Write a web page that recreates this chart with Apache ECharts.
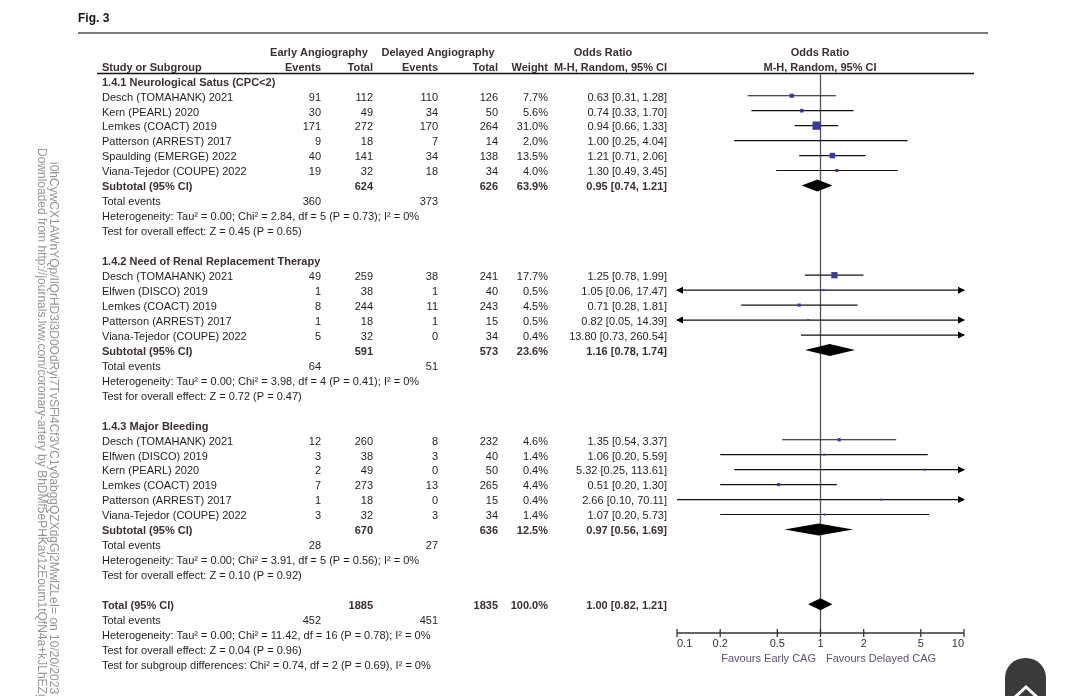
<!DOCTYPE html>
<html>
<head>
<meta charset="utf-8">
<script src="https://cdn.jsdelivr.net/npm/echarts@6/dist/echarts.min.js"></script>
<style>
  html, body { margin: 0; padding: 0; background: #fff; }
  #chart { width: 1079px; height: 696px; }
</style>
</head>
<body>
<div id="chart"></div>
<script>
// ---- data ----
// 1.4.1 Neurological Satus (CPC<2)
const names1 = ['Desch (TOMAHANK) 2021', 'Kern (PEARL) 2020', 'Lemkes (COACT) 2019', 'Patterson (ARREST) 2017', 'Spaulding (EMERGE) 2022', 'Viana-Tejedor (COUPE) 2022'];
const earlyEv1 = [91, 30, 171, 9, 40, 19];
const earlyTot1 = [112, 49, 272, 18, 141, 32];
const delayEv1 = [110, 34, 170, 7, 34, 18];
const delayTot1 = [126, 50, 264, 14, 138, 34];
const weight1 = [7.7, 5.6, 31.0, 2.0, 13.5, 4.0];
const or1 = [0.63, 0.74, 0.94, 1.00, 1.21, 1.30];
const lo1 = [0.31, 0.33, 0.66, 0.25, 0.71, 0.49];
const hi1 = [1.28, 1.70, 1.33, 4.04, 2.06, 3.45];
const sub1 = [624, 626, 63.9, 0.95, 0.74, 1.21];
const events1 = [360, 373];
const het1 = 'Heterogeneity: Tau² = 0.00; Chi² = 2.84, df = 5 (P = 0.73); I² = 0%';
const test1 = 'Test for overall effect: Z = 0.45 (P = 0.65)';

// 1.4.2 Need of Renal Replacement Therapy
const names2 = ['Desch (TOMAHANK) 2021', 'Elfwen (DISCO) 2019', 'Lemkes (COACT) 2019', 'Patterson (ARREST) 2017', 'Viana-Tejedor (COUPE) 2022'];
const earlyEv2 = [49, 1, 8, 1, 5];
const earlyTot2 = [259, 38, 244, 18, 32];
const delayEv2 = [38, 1, 11, 1, 0];
const delayTot2 = [241, 40, 243, 15, 34];
const weight2 = [17.7, 0.5, 4.5, 0.5, 0.4];
const or2 = [1.25, 1.05, 0.71, 0.82, 13.80];
const lo2 = [0.78, 0.06, 0.28, 0.05, 0.73];
const hi2 = [1.99, 17.47, 1.81, 14.39, 260.54];
const sub2 = [591, 573, 23.6, 1.16, 0.78, 1.74];
const events2 = [64, 51];
const het2 = 'Heterogeneity: Tau² = 0.00; Chi² = 3.98, df = 4 (P = 0.41); I² = 0%';
const test2 = 'Test for overall effect: Z = 0.72 (P = 0.47)';

// 1.4.3 Major Bleeding
const names3 = ['Desch (TOMAHANK) 2021', 'Elfwen (DISCO) 2019', 'Kern (PEARL) 2020', 'Lemkes (COACT) 2019', 'Patterson (ARREST) 2017', 'Viana-Tejedor (COUPE) 2022'];
const earlyEv3 = [12, 3, 2, 7, 1, 3];
const earlyTot3 = [260, 38, 49, 273, 18, 32];
const delayEv3 = [8, 3, 0, 13, 0, 3];
const delayTot3 = [232, 40, 50, 265, 15, 34];
const weight3 = [4.6, 1.4, 0.4, 4.4, 0.4, 1.4];
const or3 = [1.35, 1.06, 5.32, 0.51, 2.66, 1.07];
const lo3 = [0.54, 0.20, 0.25, 0.20, 0.10, 0.20];
const hi3 = [3.37, 5.59, 113.61, 1.30, 70.11, 5.73];
const sub3 = [670, 636, 12.5, 0.97, 0.56, 1.69];
const events3 = [28, 27];
const het3 = 'Heterogeneity: Tau² = 0.00; Chi² = 3.91, df = 5 (P = 0.56); I² = 0%';
const test3 = 'Test for overall effect: Z = 0.10 (P = 0.92)';

// overall
const totalAll = [1885, 1835, 100.0, 1.00, 0.82, 1.21];
const eventsAll = [452, 451];
const hetAll = 'Heterogeneity: Tau² = 0.00; Chi² = 11.42, df = 16 (P = 0.78); I² = 0%';
const testAll = 'Test for overall effect: Z = 0.04 (P = 0.96)';
const testSub = 'Test for subgroup differences: Chi² = 0.74, df = 2 (P = 0.69), I² = 0%';

const tickVals = [0.1, 0.2, 0.5, 1, 2, 5, 10];
const tickText = ['0.1', '0.2', '0.5', '1', '2', '5', '10'];

// ---- layout ----
const FONT = '"Liberation Sans", Arial, sans-serif';
const FS = 11;
const TXT = '#1e1e1e';
const BOLDC = '#3b2f2f';
const COL = { name: 102, ee: 321, et: 373, de: 438, dt: 498, w: 548, or: 667 };
const AXIS_R = 36.92;   // row where the OR axis sits
const HEAD_R = -0.49;   // row of the rule under the column heads

const cells = [];   // text cells [x, row]
const marks = [];   // forest marks [est, row, lo, hi, weight, kind]

function cell(x, r, t, a, bold, col) {
  cells.push({ x: x, r: r, t: String(t), a: a || 'right', b: !!bold, col: col });
}
function orText(e, l, h) {
  return e.toFixed(2) + ' [' + l.toFixed(2) + ', ' + h.toFixed(2) + ']';
}

function section(r0, title, names, ee, et, de, dt, w, or, lo, hi, sub, ev, het, test) {
  cell(COL.name, r0, title, 'left', true);
  names.forEach(function (n, i) {
    var r = r0 + 1 + i;
    cell(COL.name, r, n, 'left');
    cell(COL.ee, r, ee[i]);
    cell(COL.et, r, et[i]);
    cell(COL.de, r, de[i]);
    cell(COL.dt, r, dt[i]);
    cell(COL.w, r, w[i].toFixed(1) + '%');
    cell(COL.or, r, orText(or[i], lo[i], hi[i]));
    marks.push([or[i], r, lo[i], hi[i], w[i], 0]);
  });
  var rs = r0 + names.length + 1;
  cell(COL.name, rs, 'Subtotal (95% CI)', 'left', true);
  cell(COL.et, rs, sub[0], 'right', true);
  cell(COL.dt, rs, sub[1], 'right', true);
  cell(COL.w, rs, sub[2].toFixed(1) + '%', 'right', true);
  cell(COL.or, rs, orText(sub[3], sub[4], sub[5]), 'right', true);
  marks.push([sub[3], rs, sub[4], sub[5], 0, 1]);
  cell(COL.name, rs + 1, 'Total events', 'left');
  cell(COL.ee, rs + 1, ev[0]);
  cell(COL.de, rs + 1, ev[1]);
  cell(COL.name, rs + 2, het, 'left');
  cell(COL.name, rs + 3, test, 'left');
}

// column heads
cell(319, -2, 'Early Angiography', 'center', true);
cell(438, -2, 'Delayed Angiography', 'center', true);
cell(603, -2, 'Odds Ratio', 'center', true);
cell(820, -2, 'Odds Ratio', 'center', true);
cell(COL.name, -1, 'Study or Subgroup', 'left', true);
cell(COL.ee, -1, 'Events', 'right', true);
cell(COL.et, -1, 'Total', 'right', true);
cell(COL.de, -1, 'Events', 'right', true);
cell(COL.dt, -1, 'Total', 'right', true);
cell(COL.w, -1, 'Weight', 'right', true);
cell(COL.or, -1, 'M-H, Random, 95% CI', 'right', true);
cell(820, -1, 'M-H, Random, 95% CI', 'center', true);

section(0, '1.4.1 Neurological Satus (CPC<2)', names1, earlyEv1, earlyTot1, delayEv1, delayTot1, weight1, or1, lo1, hi1, sub1, events1, het1, test1);
section(12, '1.4.2 Need of Renal Replacement Therapy', names2, earlyEv2, earlyTot2, delayEv2, delayTot2, weight2, or2, lo2, hi2, sub2, events2, het2, test2);
section(23, '1.4.3 Major Bleeding', names3, earlyEv3, earlyTot3, delayEv3, delayTot3, weight3, or3, lo3, hi3, sub3, events3, het3, test3);

cell(COL.name, 35, 'Total (95% CI)', 'left', true);
cell(COL.et, 35, totalAll[0], 'right', true);
cell(COL.dt, 35, totalAll[1], 'right', true);
cell(COL.w, 35, totalAll[2].toFixed(1) + '%', 'right', true);
cell(COL.or, 35, orText(totalAll[3], totalAll[4], totalAll[5]), 'right', true);
marks.push([totalAll[3], 35, totalAll[4], totalAll[5], 0, 1]);
cell(COL.name, 36, 'Total events', 'left');
cell(COL.ee, 36, eventsAll[0]);
cell(COL.de, 36, eventsAll[1]);
cell(COL.name, 37, hetAll, 'left');
cell(COL.name, 38, testAll, 'left');
cell(COL.name, 39, testSub, 'left');

cell(816, 38.51, 'Favours Early CAG', 'right', false, '#5e4f6e');
cell(826, 38.51, 'Favours Delayed CAG', 'left', false, '#5e4f6e');

// ---- render helpers ----
function textItem(params, api) {
  var c = cells[params.dataIndex];
  var p = api.coord([api.value(0), api.value(1)]);
  return {
    type: 'text', x: p[0], y: p[1] + 1.8, silent: true,
    style: {
      text: c.t, font: (c.b ? 'bold ' : '') + FS + 'px ' + FONT,
      fill: c.col || (c.b ? BOLDC : TXT),
      align: c.a, verticalAlign: 'middle', textAlign: c.a, textVerticalAlign: 'middle'
    }
  };
}

function forestItem(params, api) {
  var est = api.value(0), r = api.value(1), lo = api.value(2), hi = api.value(3), w = api.value(4), kind = api.value(5);
  var amin = tickVals[0], amax = tickVals[tickVals.length - 1];
  var y = api.coord([1, r])[1];
  var xl = api.coord([Math.max(lo, amin), r])[0];
  var xh = api.coord([Math.min(hi, amax), r])[0];
  var xe = api.coord([est, r])[0];
  var ch = [];
  if (kind === 1) {
    ch.push({ type: 'polygon', shape: { points: [[xl, y], [xe, y - 6], [xh, y], [xe, y + 6]] }, style: { fill: '#000' } });
  } else {
    ch.push({ type: 'line', shape: { x1: xl, y1: y, x2: xh, y2: y }, style: { stroke: '#111', lineWidth: 1.2 } });
    if (lo < amin) {
      ch.push({ type: 'polygon', shape: { points: [[xl - 1, y], [xl + 6, y - 3.5], [xl + 6, y + 3.5]] }, style: { fill: '#000' } });
    }
    if (hi > amax) {
      ch.push({ type: 'polygon', shape: { points: [[xh + 1, y], [xh - 6, y - 3.5], [xh - 6, y + 3.5]] }, style: { fill: '#000' } });
    }
    if (est >= amin && est <= amax) {
      var s = Math.max(2, 1.5 * Math.sqrt(w));
      ch.push({ type: 'rect', shape: { x: xe - s / 2, y: y - s / 2, width: s, height: s }, style: { fill: '#3b3b96' } });
    }
  }
  return { type: 'group', children: ch };
}

function axisItem(params, api) {
  var i = params.dataIndex;
  var p = api.coord([api.value(0), api.value(1)]);
  var ch = [];
  if (i === 0) {
    var pe = api.coord([tickVals[tickVals.length - 1], AXIS_R]);
    ch.push({ type: 'line', shape: { x1: p[0], y1: p[1], x2: pe[0], y2: pe[1] }, style: { stroke: '#333', lineWidth: 1.3 } });
    var t1 = api.coord([1, HEAD_R]);
    var b1 = api.coord([1, AXIS_R]);
    ch.push({ type: 'line', shape: { x1: t1[0], y1: t1[1], x2: b1[0], y2: b1[1] }, style: { stroke: '#555', lineWidth: 1.3 } });
  }
  ch.push({ type: 'line', shape: { x1: p[0], y1: p[1] - 4, x2: p[0], y2: p[1] + 4 }, style: { stroke: '#333', lineWidth: 1.3 } });
  var a = i === 0 ? 'left' : (i === tickVals.length - 1 ? 'right' : 'center');
  ch.push({
    type: 'text', x: p[0], y: p[1] + 11,
    style: { text: tickText[i], font: FS + 'px ' + FONT, fill: '#333', align: a, verticalAlign: 'middle', textAlign: a, textVerticalAlign: 'middle' }
  });
  return { type: 'group', children: ch };
}

// ---- chart ----
const chart = echarts.init(document.getElementById('chart'), null, { renderer: 'canvas' });
const yBase = { type: 'value', min: -5, max: 41, inverse: true, show: false };

chart.setOption({
  animation: false,
  backgroundColor: '#fff',
  grid: [
    { left: 0, right: 0, top: 6, bottom: 2 },
    { left: 677, right: 115, top: 6, bottom: 2 }
  ],
  xAxis: [
    { gridIndex: 0, type: 'value', min: 0, max: 1079, show: false },
    { gridIndex: 1, type: 'log', logBase: 10, min: 0.1, max: 10, show: false }
  ],
  yAxis: [
    Object.assign({ gridIndex: 0 }, yBase),
    Object.assign({ gridIndex: 1 }, yBase)
  ],
  graphic: [
    { type: 'text', left: 78, top: 13, style: { text: 'Fig. 3', font: 'bold 12px ' + FONT, fill: '#111' } },
    { type: 'line', shape: { x1: 78, y1: 33, x2: 988, y2: 33 }, style: { stroke: '#7a7a7a', lineWidth: 2 } },
    { type: 'line', shape: { x1: 97, y1: 73.5, x2: 974, y2: 73.5 }, style: { stroke: '#111', lineWidth: 1.5 } },
    { type: 'text', x: 41.5, y: 148, rotation: -Math.PI / 2,
      style: { text: 'Downloaded from http://journals.lww.com/coronary-artery by BhDMf5ePHKav1zEoum1tQfN4a+kJLhEZgbsIHo4XM',
               font: '12px ' + FONT, fill: '#949494', align: 'left', verticalAlign: 'middle' } },
    { type: 'text', x: 53, y: 162, rotation: -Math.PI / 2,
      style: { text: 'i0hCywCX1AWnYQp/IlQrHD3i3D0OdRyi7TvSFl4Cf3VC1y0abggQZXdgGj2MwlZLeI= on 10/20/2023',
               font: '12px ' + FONT, fill: '#949494', align: 'left', verticalAlign: 'middle' } },
    { type: 'rect', shape: { x: 1005, y: 658, width: 41, height: 60, r: [20, 20, 0, 0] }, style: { fill: '#3a3a3a' } },
    { type: 'polyline', shape: { points: [[1015, 697], [1026, 687], [1037, 697]] }, style: { stroke: '#fff', lineWidth: 3, fill: null } }
  ],
  series: [
    {
      type: 'custom', name: 'text', xAxisIndex: 0, yAxisIndex: 0, silent: true,
      data: cells.map(function (c) { return [c.x, c.r]; }),
      renderItem: textItem
    },
    {
      type: 'custom', name: 'axis', xAxisIndex: 1, yAxisIndex: 1, silent: true,
      data: tickVals.map(function (v) { return [v, AXIS_R]; }),
      renderItem: axisItem
    },
    {
      type: 'custom', name: 'forest', xAxisIndex: 1, yAxisIndex: 1, silent: true,
      data: marks,
      renderItem: forestItem
    }
  ]
});
</script>
</body>
</html>
